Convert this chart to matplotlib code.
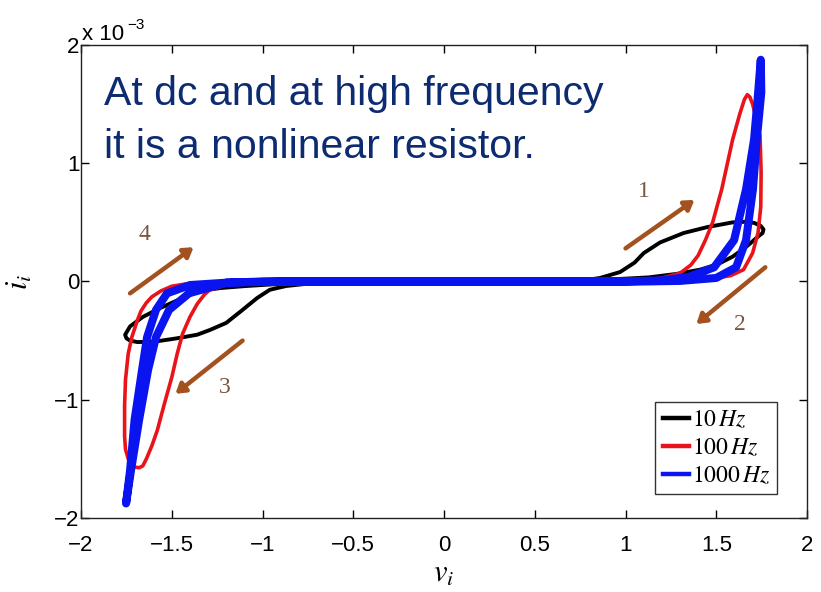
import matplotlib
matplotlib.use("Agg")
import matplotlib.pyplot as plt
from matplotlib.ticker import FixedLocator

plt.rcParams['mathtext.fontset'] = 'stix'
plt.rcParams['font.family'] = ['Liberation Sans', 'DejaVu Sans']

# ---- data (current in units of 1e-3 A) ----
v_10 = [0.0, 0.6, 0.75, 0.86, 0.97, 1.05, 1.10, 1.19, 1.32, 1.45, 1.59, 1.66, 1.71, 1.745, 1.76,
        1.755, 1.73, 1.67, 1.59, 1.50, 1.41, 1.28, 1.13, 0.95, 0.77, 0.5, 0.0,
        -0.5, -0.72, -0.90, -1.09, -1.23, -1.30, -1.38, -1.47, -1.565, -1.66, -1.73, -1.757,
        -1.75, -1.73, -1.69, -1.60, -1.47, -1.36, -1.29, -1.20, -1.11, -1.03, -0.96, -0.87,
        -0.76, -0.63, -0.4, 0.0]
i_10 = [0.0, 0.0, 0.005, 0.03, 0.08, 0.16, 0.24, 0.33, 0.41, 0.46, 0.50, 0.505, 0.495, 0.47, 0.44,
        0.41, 0.38, 0.30, 0.21, 0.14, 0.10, 0.064, 0.035, 0.02, 0.005, 0.0, 0.0,
        0.0, -0.01, -0.02, -0.038, -0.055, -0.07, -0.10, -0.16, -0.225, -0.30, -0.38, -0.45,
        -0.48, -0.50, -0.512, -0.51, -0.48, -0.45, -0.41, -0.35, -0.24, -0.14, -0.07, -0.038,
        -0.02, -0.01, 0.0, 0.0]

v_100 = [0.0, 0.9, 1.1, 1.2, 1.30, 1.36, 1.40, 1.44, 1.48, 1.53, 1.59, 1.63, 1.655, 1.671,
         1.685, 1.70, 1.72, 1.741, 1.747, 1.745, 1.73, 1.70, 1.65, 1.58, 1.45, 1.25, 0.0,
         -1.1, -1.3, -1.42, -1.50, -1.56, -1.61, -1.64, -1.67, -1.69, -1.72, -1.74, -1.755,
         -1.76, -1.76, -1.755, -1.74, -1.72, -1.70, -1.68, -1.66, -1.64, -1.61, -1.58, -1.54,
         -1.50, -1.47, -1.44, -1.40, -1.36, -1.32, -1.29, -1.20, -1.0, -0.8, 0.0]
i_100 = [0.0, 0.0, 0.01, 0.03, 0.07, 0.14, 0.22, 0.35, 0.50, 0.78, 1.20, 1.42, 1.54, 1.58,
         1.56, 1.50, 1.38, 1.23, 0.92, 0.63, 0.41, 0.24, 0.10, 0.05, 0.015, 0.0, 0.0,
         0.0, -0.01, -0.02, -0.04, -0.08, -0.13, -0.18, -0.25, -0.33, -0.47, -0.61, -0.83,
         -1.05, -1.31, -1.42, -1.50, -1.55, -1.57, -1.575, -1.56, -1.50, -1.39, -1.26, -1.03,
         -0.81, -0.61, -0.44, -0.30, -0.19, -0.11, -0.07, -0.03, -0.01, 0.0, 0.0]

v_1000 = [0.0, 1.0, 1.2, 1.35, 1.488, 1.598, 1.664, 1.708, 1.728, 1.745,
          1.748, 1.723, 1.702, 1.664, 1.609, 1.50, 1.3, 1.1, 0.0,
          -1.0, -1.2, -1.405, -1.515, -1.587, -1.631, -1.680, -1.725, -1.752,
          -1.730, -1.705, -1.664, -1.636, -1.587, -1.526, -1.40, -1.2, -0.9, 0.0]
i_1000 = [0.0, 0.0, 0.01, 0.04, 0.12, 0.35, 0.78, 1.20, 1.55, 1.875,
          1.60, 1.20, 0.78, 0.35, 0.12, 0.03, 0.005, 0.0, 0.0,
          0.0, -0.01, -0.10, -0.24, -0.47, -0.75, -1.17, -1.60, -1.877,
          -1.60, -1.17, -0.75, -0.47, -0.24, -0.10, -0.03, -0.01, 0.0, 0.0]

series_labels = ['$10\\,Hz$', '$100\\,Hz$', '$1000\\,Hz$']
x_ticks = [-2, -1.5, -1, -0.5, 0, 0.5, 1, 1.5, 2]
x_tick_labels = ['\u22122', '\u22121.5', '\u22121', '\u22120.5', '0', '0.5', '1', '1.5', '2']
y_ticks = [-2, -1, 0, 1, 2]
y_tick_labels = ['\u22122', '\u22121', '0', '1', '2']
scale = 1e-3

# arrows: (tail_v, tail_i, head_v, head_i, label, label_v, label_i)
arrows = [
    (1.00, 0.28, 1.38, 0.69, '1', 1.10, 0.76),
    (1.77, 0.12, 1.39, -0.36, '2', 1.63, -0.36),
    (-1.11, -0.50, -1.48, -0.95, '3', -1.21, -0.90),
    (-1.73, -0.10, -1.38, 0.29, '4', -1.65, 0.40),
]

fig = plt.figure(figsize=(8.21, 5.92), dpi=100)
ax = fig.add_axes([0.0987, 0.125, 0.8843, 0.799])

ax.plot(v_10, [y * scale for y in i_10], color='black', lw=2.8, label=series_labels[0],
        solid_joinstyle='round')
ax.plot(v_100, [y * scale for y in i_100], color='#E8141A', lw=2.6, label=series_labels[1],
        solid_joinstyle='round')
ax.plot(v_1000, [y * scale for y in i_1000], color='#0A14F0', lw=5.8, label=series_labels[2],
        solid_joinstyle='round')

ax.set_xlim(-2, 2)
ax.set_ylim(-2 * scale, 2 * scale)
ax.xaxis.set_major_locator(FixedLocator(x_ticks))
ax.set_xticklabels(x_tick_labels)
ax.yaxis.set_major_locator(FixedLocator([t * scale for t in y_ticks]))
ax.set_yticklabels(y_tick_labels)
ax.tick_params(direction='in', length=6, width=1, top=True, right=True,
               labelsize=16, colors='black')
ax.tick_params(axis='x', pad=12)
ax.tick_params(axis='y', pad=1)
for s in ax.spines.values():
    s.set_linewidth(1.0)
    s.set_color('#222222')

ax.text(0.002, 1.011, 'x 10', transform=ax.transAxes, fontsize=16, ha='left', va='baseline')
ax.text(0.063, 1.033, '\u22123', transform=ax.transAxes, fontsize=11, ha='left', va='baseline')

ax.set_xlabel('$v_i$', fontsize=22, labelpad=2)
ax.set_ylabel('$i_i$', fontsize=22, labelpad=14)

ax.text(0.031, 0.937, 'At dc and at high frequency\nit is a nonlinear resistor.',
        transform=ax.transAxes, fontsize=29.5, color='#0D2B70', ha='left', va='top',
        linespacing=1.5)

brown = '#A3521F'
for tv, ti, hv, hi, lab, lv, li in arrows:
    ax.annotate('', xy=(hv, hi * scale), xytext=(tv, ti * scale),
                arrowprops=dict(arrowstyle='-|>,head_length=0.55,head_width=0.35',
                                color=brown, lw=3.2, shrinkA=0, shrinkB=0))
    ax.text(lv, li * scale, lab, fontsize=17, color='#7A5540', family='Liberation Serif',
            ha='center', va='center')

leg = ax.legend(loc='upper right', bbox_to_anchor=(0.959, 0.245), borderaxespad=0,
                fontsize=17, frameon=True, fancybox=False, handlelength=1.1,
                handletextpad=0.15, labelspacing=0.25, borderpad=0.3)
leg.get_frame().set_edgecolor('black')
leg.get_frame().set_linewidth(1.0)
for h in leg.legend_handles:
    h.set_linewidth(3.2)

fig.savefig('out.png', dpi=100)
